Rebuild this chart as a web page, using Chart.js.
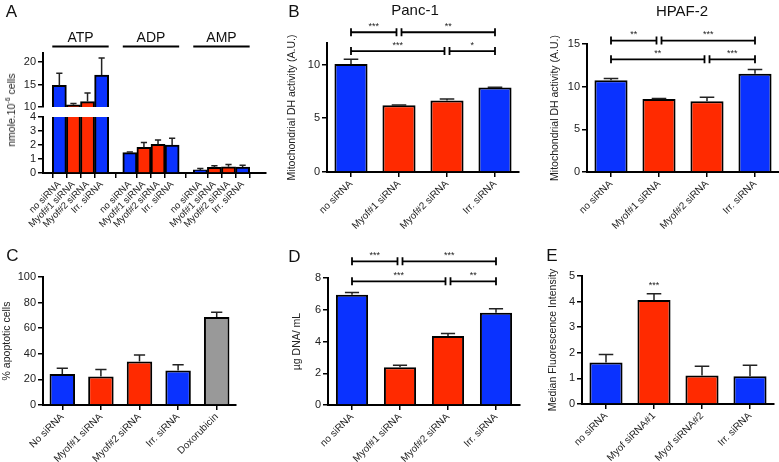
<!DOCTYPE html>
<html>
<head>
<meta charset="utf-8">
<script src="https://cdn.jsdelivr.net/npm/chart.js@4/dist/chart.umd.min.js"></script>
<style>
html, body { margin: 0; padding: 0; background: #fff; overflow: hidden; }
#wrap { position: relative; width: 779px; height: 462px; overflow: hidden; font-family: "Liberation Sans", Arial, sans-serif; color: #111; }
#wrap canvas { position: absolute; left: 0; top: 0; }
.t { position: absolute; transform: translate(-50%, -50%); line-height: 1; white-space: nowrap; }
.big { font-size: 17px; }
.ttl { font-size: 15px; }
</style>
</head>
<body>
<div id="wrap">
  <canvas id="aTop" width="900" height="560"></canvas>
  <canvas id="aBottom" width="900" height="560"></canvas>
  <canvas id="panc1" width="900" height="560"></canvas>
  <canvas id="hpaf2" width="900" height="560"></canvas>
  <canvas id="apo" width="900" height="560"></canvas>
  <canvas id="dna" width="900" height="560"></canvas>
  <canvas id="mfi" width="900" height="560"></canvas>

  <div class="t big" style="left:11.5px;top:11px">A</div>
  <div class="t big" style="left:294px;top:11px">B</div>
  <div class="t big" style="left:12.5px;top:255px">C</div>
  <div class="t big" style="left:294.5px;top:255.5px">D</div>
  <div class="t big" style="left:552px;top:255px">E</div>
  <div class="t ttl" style="left:415px;top:8.5px">Panc-1</div>
  <div class="t ttl" style="left:682px;top:10px">HPAF-2</div>
  <div class="t" style="left:10px;top:110px;font-size:10.5px;color:#222;transform:translate(-50%,-50%) rotate(-90deg)">nmole.10<sup style="font-size:7px">-6</sup> cells</div>
</div>

<script>
// ---- data ----
const siLabels = ["no siRNA", "Myof#1 siRNA", "Myof#2 siRNA", "Irr. siRNA"];
const nucleotides = ["ATP", "ADP", "AMP"];
const atpMean = [14.8, 10.5, 11.2, 17.1];
const atpSem = [2.7, 0.3, 1.9, 3.8];
const adpMean = [1.45, 1.83, 2.05, 2.0];
const adpSem = [0.05, 0.34, 0.31, 0.48];
const ampMean = [0.22, 0.4, 0.44, 0.43];
const ampSem = [0.1, 0.12, 0.16, 0.12];

const panc1Mean = [10.05, 6.2, 6.65, 7.85];
const panc1Sem = [0.45, 0.03, 0.14, 0.03];
const hpafMean = [10.75, 8.55, 8.3, 11.5];
const hpafSem = [0.2, 0.05, 0.45, 0.5];

const sigPairs = [[0, 1], [1, 3], [0, 2], [2, 3]];
const panc1Stars = ["***", "**", "***", "*"];
const panc1Levels = [13.0, 13.0, 11.25, 11.25];
const hpafStars = ["**", "***", "**", "***"];
const hpafLevels = [15.4, 15.4, 13.2, 13.2];

const apoLabels = ["No siRNA", "Myof#1 siRNA", "Myof#2 siRNA", "Irr. siRNA", "Doxorubicin"];
const apoMean = [24.3, 22.2, 34.0, 26.9, 68.8];
const apoSem = [4.5, 5.5, 5.0, 4.5, 3.6];

const dnaMean = [6.95, 2.38, 4.34, 5.81];
const dnaSem = [0.13, 0.12, 0.16, 0.25];
const dnaStars = ["***", "***", "***", "**"];
const dnaLevels = [9.05, 9.05, 7.79, 7.79];

const mfiLabels = ["no siRNA", "Myof siRNA#1", "Myof siRNA#2", "Irr. siRNA"];
const mfiMean = [1.62, 4.06, 1.11, 1.08];
const mfiSem = [0.31, 0.25, 0.36, 0.43];
const mfiStars = ["", "***", "", ""];

// ---- look ----
const BLUE = "#0a32ff", RED = "#ff2a00", GREY = "#999999";
const siColors = [BLUE, RED, RED, BLUE];
const FONT = '"Liberation Sans", Arial, sans-serif';
const CW = 900, CH = 560, XH = 60;

Chart.defaults.font.family = FONT;
Chart.defaults.color = "#222";
Chart.defaults.animation = false;
Chart.defaults.plugins.legend.display = false;
Chart.defaults.plugins.tooltip.enabled = false;

const axisGrid = { drawOnChartArea: false, tickLength: 5, color: "#000", lineWidth: 1.5 };
const axisBorder = { color: "#000", width: 2 };

// fixed tick values every `step` from min to max
function stepTicks(step) {
  return s => {
    const out = [];
    for (let v = s.min; v <= s.max + 1e-9; v += step) out.push({ value: v });
    s.ticks = out;
  };
}

// error bars, upper side only
const errorBars = {
  id: "errorBars",
  afterDatasetsDraw(chart) {
    const { ctx, chartArea: a, scales: { y } } = chart;
    ctx.save();
    ctx.beginPath();
    ctx.rect(a.left, a.top - 1, a.width, a.height + 1);
    ctx.clip();
    ctx.strokeStyle = "#222";
    ctx.lineWidth = 1.5;
    chart.data.datasets.forEach((ds, i) => {
      const meta = chart.getDatasetMeta(i);
      meta.data.forEach((bar, j) => {
        const e = ds.errors && ds.errors[j];
        if (!e) return;
        const v = meta.controller.getParsed(j).y;
        const top = y.getPixelForValue(v + e);
        const cap = bar.width * 0.22;
        ctx.beginPath();
        ctx.moveTo(bar.x, bar.y);
        ctx.lineTo(bar.x, top);
        ctx.moveTo(bar.x - cap, top);
        ctx.lineTo(bar.x + cap, top);
        ctx.stroke();
      });
    });
    ctx.restore();
  }
};

// significance brackets
function brackets(pairs, stars, levels) {
  return {
    id: "brackets",
    afterDraw(chart) {
      const { ctx, scales: { x, y } } = chart;
      ctx.save();
      ctx.strokeStyle = "#000";
      ctx.lineWidth = 1.8;
      ctx.fillStyle = "#222";
      ctx.font = "9px " + FONT;
      ctx.textAlign = "center";
      ctx.textBaseline = "alphabetic";
      pairs.forEach(([a, b], i) => {
        const same = j => j !== i && levels[j] === levels[i];
        let x1 = x.getPixelForValue(a), x2 = x.getPixelForValue(b);
        if (pairs.some((p, j) => same(j) && p[1] === a)) x1 += 2.5;
        if (pairs.some((p, j) => same(j) && p[0] === b)) x2 -= 2.5;
        const yy = y.getPixelForValue(levels[i]);
        ctx.beginPath();
        ctx.moveTo(x1, yy); ctx.lineTo(x2, yy);
        ctx.moveTo(x1, yy - 4); ctx.lineTo(x1, yy + 4);
        ctx.moveTo(x2, yy - 4); ctx.lineTo(x2, yy + 4);
        ctx.stroke();
        ctx.fillText(stars[i], (x1 + x2) / 2, yy - 3.5);
      });
      ctx.restore();
    }
  };
}

// stars above single bars
function starMarks(stars) {
  return {
    id: "starMarks",
    afterDatasetsDraw(chart) {
      const { ctx, scales: { y } } = chart;
      const ds = chart.data.datasets[0];
      const meta = chart.getDatasetMeta(0);
      ctx.save();
      ctx.fillStyle = "#222";
      ctx.font = "9px " + FONT;
      ctx.textAlign = "center";
      meta.data.forEach((bar, j) => {
        if (!stars[j]) return;
        const top = y.getPixelForValue(meta.controller.getParsed(j).y + ds.errors[j]);
        ctx.fillText(stars[j], bar.x, top - 6);
      });
      ctx.restore();
    }
  };
}

// chart area placement on the shared page
function place(area, titleX) {
  const left = titleX != null ? titleX - 6.3 : area.l - 28;
  return {
    padding: { left: left, top: area.t, right: CW - area.r, bottom: CH - area.b },
    yW: area.l - left
  };
}

function barChart(id, cfg) {
  const p = place(cfg.area, cfg.titleX);
  p.padding.bottom -= XH;
  const extra = [errorBars];
  if (cfg.pairs) extra.push(brackets(cfg.pairs, cfg.stars, cfg.levels));
  if (cfg.marks) extra.push(starMarks(cfg.marks));
  return new Chart(document.getElementById(id), {
    type: "bar",
    data: {
      labels: cfg.labels,
      datasets: [{
        data: cfg.values,
        errors: cfg.errors,
        backgroundColor: cfg.colors,
        borderColor: "#000",
        borderWidth: 2,
        barPercentage: cfg.barPct,
        categoryPercentage: 1
      }]
    },
    options: {
      responsive: false,
      devicePixelRatio: 1,
      layout: { padding: p.padding },
      scales: {
        x: {
          offset: true,
          grid: Object.assign({}, axisGrid, { offset: false }),
          border: axisBorder,
          ticks: { autoSkip: false, minRotation: 45, maxRotation: 45, padding: 1, font: { size: 10 } },
          afterFit: s => { s.height = XH; }
        },
        y: {
          min: 0,
          max: cfg.max,
          grid: axisGrid,
          border: axisBorder,
          ticks: { autoSkip: false, padding: 2, font: { size: 11 } },
          afterBuildTicks: stepTicks(cfg.step),
          afterFit: s => { s.width = p.yW; },
          title: { display: true, text: cfg.title, font: { size: 10.5 }, padding: 0 }
        }
      }
    },
    plugins: extra
  });
}

// ---- panel A: broken axis, two stacked charts ----
const GROUP_STEP = siLabels.length + 1;
const aMeans = [atpMean, adpMean, ampMean];
const aSems = [atpSem, adpSem, ampSem];
const aPos = nucleotides.flatMap((_, g) => siLabels.map((_, i) => g * GROUP_STEP + i));

const groupHeaders = {
  id: "groupHeaders",
  afterDraw(chart) {
    const { ctx, chartArea: a, scales: { x } } = chart;
    ctx.save();
    ctx.strokeStyle = "#000";
    ctx.lineWidth = 2;
    ctx.fillStyle = "#111";
    ctx.font = "14px " + FONT;
    ctx.textAlign = "center";
    nucleotides.forEach((name, g) => {
      const x1 = x.getPixelForValue(g * GROUP_STEP - 0.5);
      const x2 = x.getPixelForValue(g * GROUP_STEP + siLabels.length - 0.5);
      ctx.beginPath();
      ctx.moveTo(x1, a.top - 6.5);
      ctx.lineTo(x2, a.top - 6.5);
      ctx.stroke();
      ctx.fillText(name, (x1 + x2) / 2, a.top - 11.3);
    });
    ctx.restore();
  }
};

function aChart(id, area, yMin, yMax, step, groups, showX) {
  const p = place(area, null);
  if (showX) p.padding.bottom -= XH;
  const pts = [], cols = [], errs = [];
  groups.forEach(g => {
    aMeans[g].forEach((v, i) => {
      pts.push({ x: g * GROUP_STEP + i, y: v });
      cols.push(siColors[i]);
      errs.push(aSems[g][i]);
    });
  });
  const xScale = {
    type: "linear",
    min: -0.5,
    max: 14,
    display: showX,
    grid: axisGrid,
    border: axisBorder,
    afterBuildTicks: s => { s.ticks = aPos.map(v => ({ value: v })); },
    ticks: {
      autoSkip: false, minRotation: 45, maxRotation: 45, padding: 1,
      font: { size: 9.5 },
      callback: v => siLabels[v % GROUP_STEP]
    }
  };
  if (showX) xScale.afterFit = s => { s.height = XH; };
  return new Chart(document.getElementById(id), {
    type: "bar",
    data: {
      datasets: [{
        data: pts,
        errors: errs,
        backgroundColor: cols,
        borderColor: "#000",
        borderWidth: 2,
        barPercentage: 1,
        categoryPercentage: 1,
        clip: 0
      }]
    },
    options: {
      responsive: false,
      devicePixelRatio: 1,
      layout: { padding: p.padding },
      scales: {
        x: xScale,
        y: {
          min: yMin,
          max: yMax,
          grid: axisGrid,
          border: axisBorder,
          ticks: { autoSkip: false, padding: 2, font: { size: 11 } },
          afterBuildTicks: stepTicks(step),
          afterFit: s => { s.width = p.yW; }
        }
      }
    },
    plugins: showX ? [errorBars] : [errorBars, groupHeaders]
  });
}

aChart("aTop", { l: 43, r: 266, t: 53, b: 107 }, 10, 22, 5, [0], false);
aChart("aBottom", { l: 43, r: 266, t: 117, b: 173 }, 0, 4, 1, [0, 1, 2], true);

// ---- panel B ----
barChart("panc1", {
  area: { l: 327, r: 519, t: 43, b: 172 }, titleX: 292,
  labels: siLabels, values: panc1Mean, errors: panc1Sem, colors: siColors,
  barPct: 0.69, max: 12, step: 5, title: "Mitochondrial DH activity (A.U.)",
  pairs: sigPairs, stars: panc1Stars, levels: panc1Levels
});
barChart("hpaf2", {
  area: { l: 587, r: 779, t: 44, b: 172 }, titleX: 555,
  labels: siLabels, values: hpafMean, errors: hpafSem, colors: siColors,
  barPct: 0.69, max: 15, step: 5, title: "Mitochondrial DH activity (A.U.)",
  pairs: sigPairs, stars: hpafStars, levels: hpafLevels
});

// ---- panel C ----
barChart("apo", {
  area: { l: 43, r: 236, t: 277, b: 405 }, titleX: 7.5,
  labels: apoLabels, values: apoMean, errors: apoSem, colors: siColors.concat([GREY]),
  barPct: 0.66, max: 100, step: 20, title: "% apoptotic cells"
});

// ---- panel D ----
barChart("dna", {
  area: { l: 328, r: 520, t: 278, b: 405 }, titleX: 297.5,
  labels: siLabels, values: dnaMean, errors: dnaSem, colors: siColors,
  barPct: 0.67, max: 8, step: 2, title: "µg DNA/ mL",
  pairs: sigPairs, stars: dnaStars, levels: dnaLevels
});

// ---- panel E ----
barChart("mfi", {
  area: { l: 582, r: 774, t: 276, b: 404 }, titleX: 553.5,
  labels: mfiLabels, values: mfiMean, errors: mfiSem, colors: siColors,
  barPct: 0.69, max: 5, step: 1, title: "Median Fluorescence Intensity",
  marks: mfiStars
});
</script>
</body>
</html>
